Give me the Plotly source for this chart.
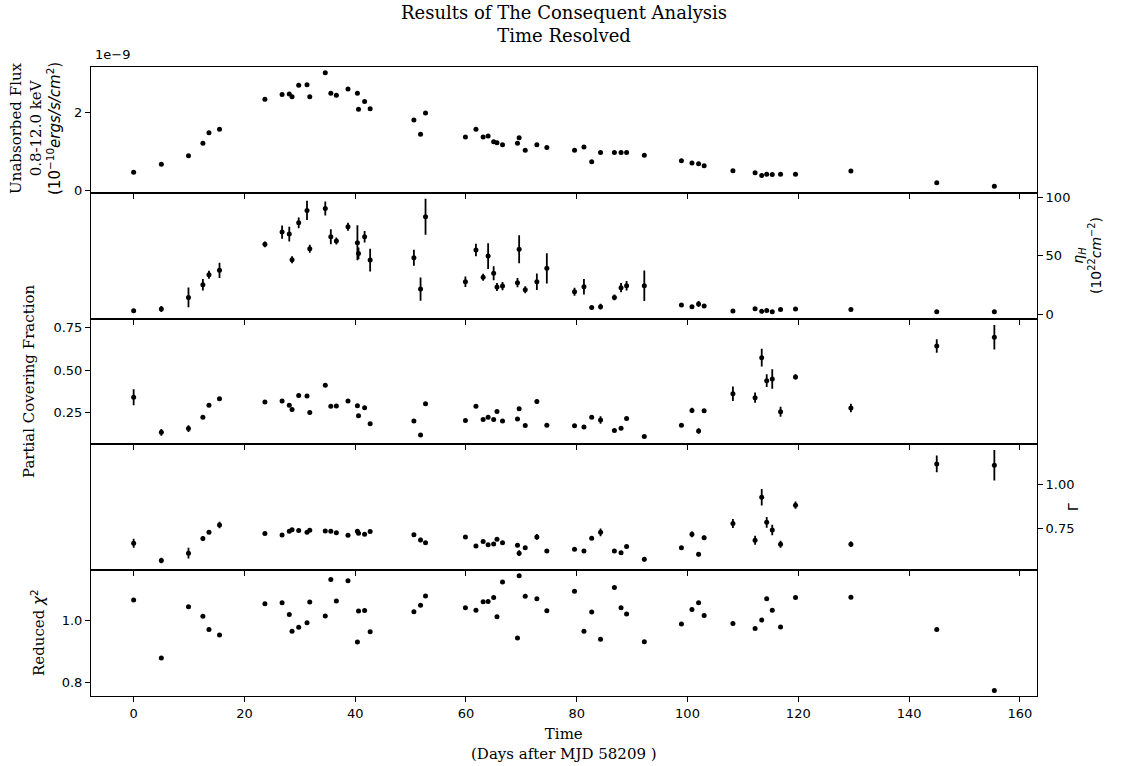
import plotly.graph_objects as go

# Observation epochs (days after MJD 58209)
days = [0.0, 5.0, 9.9, 12.5, 13.6, 15.5, 23.7, 26.8, 28.1, 28.6, 29.8, 31.3, 31.8,
        34.6, 35.6, 36.6, 38.7, 40.4, 40.6, 41.7, 42.7, 50.6, 51.8, 52.7, 59.9,
        61.8, 63.1, 64.0, 65.0, 65.6, 66.6, 69.3, 69.6, 70.7, 72.8, 74.6, 79.6,
        81.3, 82.7, 84.3, 86.8, 88.0, 89.0, 92.2, 98.9, 100.8, 102.0, 103.0,
        108.2, 112.2, 113.4, 114.3, 115.3, 116.8, 119.5, 129.5, 145.0, 155.4]

# Unabsorbed flux, 0.8-12.0 keV (units of 1e-9)
flux = [0.46, 0.67, 0.89, 1.21, 1.48, 1.57, 2.35, 2.47, 2.48, 2.41, 2.71, 2.72, 2.41,
        3.03, 2.50, 2.45, 2.61, 2.50, 2.09, 2.29, 2.10, 1.81, 1.44, 1.99, 1.37,
        1.57, 1.37, 1.40, 1.25, 1.22, 1.17, 1.21, 1.35, 1.03, 1.17, 1.10, 1.03,
        1.11, 0.73, 0.97, 0.97, 0.97, 0.97, 0.90, 0.76, 0.70, 0.68, 0.63,
        0.50, 0.45, 0.38, 0.41, 0.40, 0.41, 0.41, 0.49, 0.19, 0.10]

# Column density eta_H (1e22 cm^-2) and its uncertainty
eta_h = [2.8, 4.3, 14.3, 25.1, 33.7, 37.5, 59.8, 70.3, 68.6, 46.6, 78.3, 88.9, 56.0,
         90.6, 66.3, 62.6, 74.9, 61.2, 52.0, 66.3, 46.3, 48.3, 21.4, 83.5, 27.7,
         54.9, 31.5, 49.7, 34.9, 23.2, 24.0, 26.9, 55.5, 20.9, 27.7, 39.2, 19.1,
         23.4, 5.7, 6.3, 14.3, 22.6, 24.3, 24.3, 7.7, 6.3, 8.6, 6.9,
         2.6, 4.6, 2.3, 3.1, 2.0, 4.0, 4.3, 4.0, 2.0, 2.0]
eta_h_err = [1.0, 2.5, 8.5, 5.0, 3.5, 6.5, 2.5, 5.7, 6.3, 3.0, 4.6, 8.3, 3.5,
             6.0, 6.5, 3.0, 3.5, 15.0, 5.0, 5.0, 9.7, 6.9, 10.0, 15.5, 4.6,
             5.4, 3.0, 11.0, 6.0, 3.5, 3.5, 4.0, 12.0, 3.0, 7.0, 13.0, 3.5,
             6.7, 1.2, 2.5, 2.5, 4.0, 4.0, 13.0, 1.5, 1.2, 2.5, 1.5,
             1.0, 1.2, 1.0, 1.0, 1.0, 1.2, 1.2, 1.2, 1.0, 1.0]

# Partial covering fraction and its uncertainty
pcf = [0.340, 0.134, 0.156, 0.222, 0.294, 0.332, 0.312, 0.318, 0.293, 0.269, 0.350,
       0.348, 0.251, 0.411, 0.287, 0.289, 0.318, 0.290, 0.231, 0.278, 0.184, 0.200,
       0.118, 0.302, 0.204, 0.287, 0.210, 0.223, 0.210, 0.257, 0.200, 0.213, 0.273,
       0.174, 0.316, 0.176, 0.172, 0.166, 0.222, 0.207, 0.145, 0.158, 0.216, 0.109,
       0.176, 0.263, 0.142, 0.261, 0.361, 0.338, 0.573, 0.438, 0.448, 0.255, 0.460,
       0.277, 0.642, 0.693]
pcf_err = [0.047, 0.020, 0.020, 0.008, 0.008, 0.008, 0.006, 0.006, 0.008, 0.008, 0.006,
           0.006, 0.006, 0.006, 0.006, 0.006, 0.006, 0.006, 0.006, 0.006, 0.006, 0.006,
           0.006, 0.006, 0.006, 0.006, 0.006, 0.006, 0.006, 0.006, 0.006, 0.006, 0.008,
           0.006, 0.012, 0.006, 0.006, 0.006, 0.006, 0.022, 0.006, 0.006, 0.006, 0.006,
           0.006, 0.016, 0.016, 0.010, 0.042, 0.030, 0.052, 0.037, 0.057, 0.030, 0.015,
           0.025, 0.040, 0.072]

# Photon index Gamma and its uncertainty
gamma = [0.670, 0.573, 0.614, 0.696, 0.731, 0.772, 0.724, 0.716, 0.737, 0.746, 0.741,
         0.731, 0.743, 0.739, 0.737, 0.728, 0.715, 0.737, 0.726, 0.720, 0.735, 0.718,
         0.688, 0.672, 0.705, 0.655, 0.679, 0.662, 0.666, 0.692, 0.672, 0.659, 0.614,
         0.645, 0.705, 0.627, 0.636, 0.627, 0.698, 0.731, 0.627, 0.617, 0.651, 0.580,
         0.645, 0.720, 0.608, 0.701, 0.780, 0.687, 0.927, 0.787, 0.744, 0.664, 0.883,
         0.664, 1.114, 1.106]
gamma_err = [0.025, 0.015, 0.030, 0.012, 0.008, 0.018, 0.006, 0.006, 0.006, 0.006, 0.006,
             0.006, 0.006, 0.006, 0.006, 0.006, 0.006, 0.012, 0.006, 0.006, 0.006, 0.006,
             0.012, 0.006, 0.006, 0.006, 0.006, 0.006, 0.006, 0.006, 0.006, 0.006, 0.016,
             0.006, 0.016, 0.010, 0.006, 0.006, 0.006, 0.022, 0.006, 0.006, 0.006, 0.012,
             0.006, 0.016, 0.012, 0.012, 0.025, 0.025, 0.046, 0.030, 0.030, 0.020, 0.020,
             0.015, 0.047, 0.085]

# Reduced chi-square of each fit
red_chi2 = [1.066, 0.879, 1.044, 1.013, 0.971, 0.953, 1.054, 1.057, 1.019, 0.965, 0.978,
            0.992, 1.059, 1.014, 1.132, 1.063, 1.128, 0.930, 1.030, 1.032, 0.963, 1.028,
            1.049, 1.079, 1.041, 1.033, 1.060, 1.061, 1.074, 1.012, 1.124, 0.943, 1.144,
            1.078, 1.070, 1.031, 1.094, 0.965, 1.027, 0.939, 1.106, 1.041, 1.021, 0.931,
            0.988, 1.035, 1.057, 1.016, 0.990, 0.974, 1.001, 1.070, 1.033, 0.979, 1.074,
            1.075, 0.971, 0.774]

x_ticks = [0, 20, 40, 60, 80, 100, 120, 140, 160]

W, H = 1125, 766
ML, MR, MT, MB = 91, 88, 67, 70
PW, PH = W - ML - MR, H - MT - MB

SANS = "DejaVu Sans"
SERIF = "DejaVu Serif"
TICK_FONT = dict(family=SANS, size=13, color="black")
LABEL_FONT = dict(family=SERIF, size=15, color="black")


def fx(px):
    return (px - ML) / PW


def fy(py):
    return (H - MB - py) / PH


panels = [
    dict(y=flux, err=None),
    dict(y=eta_h, err=eta_h_err),
    dict(y=pcf, err=pcf_err),
    dict(y=gamma, err=gamma_err),
    dict(y=red_chi2, err=None),
]

fig = go.Figure()
for i, p in enumerate(panels, start=1):
    sfx = "" if i == 1 else str(i)
    tr = dict(
        x=days, y=p["y"], mode="markers",
        marker=dict(color="black", size=5),
        xaxis="x" + sfx, yaxis="y" + sfx, showlegend=False,
    )
    if p["err"] is not None:
        tr["error_y"] = dict(type="data", array=p["err"], visible=True,
                             color="black", thickness=1.8, width=0)
    fig.add_trace(go.Scatter(**tr))

n = len(panels)
hstep = 1.0 / n
y_specs = [
    dict(range=[-0.07, 3.18], tickvals=[0, 2], ticktext=["0", "2"], side="left"),
    dict(range=[-3.9, 104.0], tickvals=[0, 50, 100], side="right"),
    dict(range=[0.063, 0.803], tickvals=[0.25, 0.5, 0.75],
         ticktext=["0.25", "0.50", "0.75"], side="left"),
    dict(range=[0.519, 1.223], tickvals=[0.75, 1.0], ticktext=["0.75", "1.00"], side="right"),
    dict(range=[0.756, 1.162], tickvals=[0.8, 1.0], ticktext=["0.8", "1.0"], side="left"),
]

axis_common = dict(showline=True, linecolor="black", linewidth=1, mirror=True,
                   ticks="outside", ticklen=5, tickwidth=1, tickcolor="black",
                   showgrid=False, zeroline=False, tickfont=TICK_FONT)

layout = dict(
    width=W, height=H,
    margin=dict(l=ML, r=MR, t=MT, b=MB),
    paper_bgcolor="white", plot_bgcolor="rgba(0,0,0,0)",
    showlegend=False,
)

for i in range(1, n + 1):
    sfx = "" if i == 1 else str(i)
    top = 1 - (i - 1) * hstep
    bot = 1 - i * hstep
    xa = dict(axis_common, domain=[0, 1], range=[-7.7, 163.1],
              tickvals=x_ticks, anchor="y" + sfx,
              showticklabels=(i == n))
    if i > 1:
        xa["matches"] = "x"
    ya = dict(axis_common, domain=[bot, top], anchor="x" + sfx, **y_specs[i - 1])
    layout["xaxis" + sfx] = xa
    layout["yaxis" + sfx] = ya

math_sans = "font-family:DejaVu Sans"
annotations = [
    # Figure title
    dict(text="Results of The Consequent Analysis<br>Time Resolved",
         x=fx(564), y=fy(0), xanchor="center", yanchor="top",
         font=dict(family=SERIF, size=18, color="black")),
    # Axis offset for the flux panel
    dict(text="1e\u22129", x=fx(93), y=fy(55), xanchor="left", yanchor="middle",
         font=dict(family=SANS, size=13, color="black")),
    # Left-hand panel labels
    dict(text=("Unabsorbed Flux<br>0.8-12.0 keV<br>"
               f"<span style='{math_sans}'>(10<sup>\u221210</sup><i>ergs/s/cm</i><sup>2</sup>)</span>"),
         x=fx(35), y=fy(129), textangle=-90, xanchor="center", yanchor="middle",
         font=LABEL_FONT),
    dict(text="Partial Covering Fraction", x=fx(29), y=fy(381), textangle=-90,
         xanchor="center", yanchor="middle", font=LABEL_FONT),
    dict(text=f"Reduced <span style='{math_sans}'><i>\u03c7</i><sup>2</sup></span>",
         x=fx(38), y=fy(633), textangle=-90, xanchor="center", yanchor="middle",
         font=LABEL_FONT),
    # Right-hand panel labels
    dict(text=(f"<span style='{math_sans}'><i>\u03b7</i><sub><i>H</i></sub></span><br>"
               f"<span style='{math_sans}'>(10<sup>22</sup><i>cm</i><sup>\u22122</sup>)</span>"),
         x=fx(1087), y=fy(256), textangle=-90, xanchor="center", yanchor="middle",
         font=dict(family=SANS, size=14, color="black")),
    dict(text="\u0393", x=fx(1073), y=fy(507), textangle=-90,
         xanchor="center", yanchor="middle",
         font=dict(family=SANS, size=14, color="black")),
    # Shared x-axis label
    dict(text="Time<br>(Days after MJD 58209 )", x=fx(564), y=fy(723),
         xanchor="center", yanchor="top", font=LABEL_FONT),
]
for a in annotations:
    a.update(xref="paper", yref="paper", showarrow=False)
layout["annotations"] = annotations

fig.update_layout(**layout)
fig.write_html("out.html")
